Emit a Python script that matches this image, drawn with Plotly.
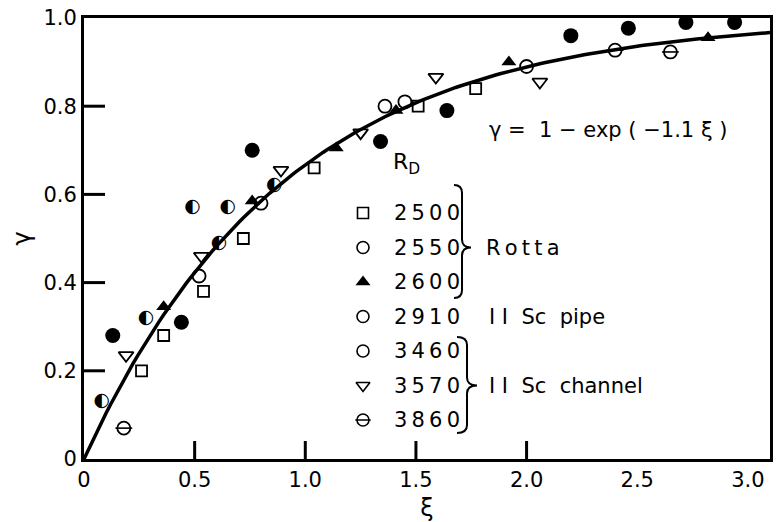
import math
import plotly.graph_objects as go

# ---------------- data ----------------
# R_D = 2500 (Rotta) - open squares
xi_2500 = [0.26, 0.36, 0.54, 0.72, 1.04, 1.51, 1.77]
g_2500 = [0.20, 0.28, 0.38, 0.50, 0.66, 0.80, 0.84]
# R_D = 2550 (Rotta) - open circles
xi_2550 = [0.52, 0.80, 1.36, 1.45, 2.00]
g_2550 = [0.415, 0.58, 0.80, 0.81, 0.89]
# R_D = 2600 (Rotta) - filled triangles
xi_2600 = [0.36, 0.76, 1.14, 1.41, 1.92, 2.82]
g_2600 = [0.345, 0.585, 0.705, 0.79, 0.90, 0.955]
# R_D = 2910 (II Sc pipe) - filled circles
xi_2910 = [0.13, 0.44, 0.76, 1.34, 1.64, 2.20, 2.46, 2.72, 2.94]
g_2910 = [0.28, 0.31, 0.70, 0.72, 0.79, 0.96, 0.977, 0.99, 0.99]
# R_D = 3460 (II Sc channel) - half-filled circles
xi_3460 = [0.08, 0.28, 0.49, 0.61, 0.65, 0.86]
g_3460 = [0.13, 0.32, 0.57, 0.49, 0.57, 0.62]
# R_D = 3570 (II Sc channel) - open down-triangles
xi_3570 = [0.19, 0.53, 0.89, 1.25, 1.59, 2.06]
g_3570 = [0.235, 0.46, 0.655, 0.74, 0.866, 0.855]
# R_D = 3860 (II Sc channel) - circles with a bar
xi_3860 = [0.18, 2.40, 2.65]
g_3860 = [0.07, 0.927, 0.923]

# fitted curve stated on the chart: gamma = 1 - exp(-1.1 xi)
fit_coef = 1.1
xi_curve = [i * 0.02 for i in range(0, 156)]
g_curve = [1 - math.exp(-fit_coef * v) for v in xi_curve]

legend_labels = ["2500", "2550", "2600", "2910", "3460", "3570", "3860"]
x_ticks = [0, 0.5, 1.0, 1.5, 2.0, 2.5, 3.0]
x_ticktext = ["0", "0.5", "1.0", "1.5", "2.0", "2.5", "3.0"]
x_tickmarks = [0.5, 1.0, 1.5, 2.0]
y_ticks = [0, 0.2, 0.4, 0.6, 0.8, 1.0]
y_ticktext = ["0", "0.2", "0.4", "0.6", "0.8", "1.0"]
y_tickmarks = [0.2, 0.4, 0.6, 0.8]

FONT = "DejaVu Sans"
BLACK = "black"

# page body adds an 8px offset; figure sized to fill the rest of the window
OFF = 8
W, H = 783 - OFF, 522 - OFF
ML, MR, MT, MB = 84 - OFF, 13, 18 - OFF, 63
PW, PH = W - ML - MR, H - MT - MB
XR = [0, 3.1]
YR = [0, 1.0]
XTICKLEN, YTICKLEN = 18, 21


def px_x(p):
    """window pixel column -> data x (used only for the key/annotation layout)"""
    return XR[0] + (p - OFF - ML) / PW * (XR[1] - XR[0])


def px_y(p):
    return YR[0] + (H + OFF - MB - p) / PH * (YR[1] - YR[0])


fig = go.Figure()

# inward tick marks, drawn as short line segments at the tick values
tx, ty = [], []
for v in x_tickmarks:
    tx += [v, v, None]
    ty += [YR[0], YR[0] + XTICKLEN / PH * (YR[1] - YR[0]), None]
for v in y_tickmarks:
    tx += [XR[0], XR[0] + YTICKLEN / PW * (XR[1] - XR[0]), None]
    ty += [v, v, None]
fig.add_trace(go.Scatter(x=tx, y=ty, mode="lines", line=dict(color=BLACK, width=3),
                         showlegend=False, hoverinfo="skip"))

# curve
fig.add_trace(go.Scatter(x=xi_curve, y=g_curve, mode="lines",
                         line=dict(color=BLACK, width=3.5), showlegend=False))


def mk(x, y, symbol, size, lw=1.8):
    return go.Scatter(x=x, y=y, mode="markers", showlegend=False,
                      marker=dict(symbol=symbol, size=size, color=BLACK,
                                  line=dict(color=BLACK, width=lw)))


fig.add_trace(mk(xi_2500, g_2500, "square-open", 11))
fig.add_trace(mk(xi_2550, g_2550, "circle-open", 13))
fig.add_trace(mk(xi_2600, g_2600, "triangle-up", 13, lw=0))
fig.add_trace(mk(xi_2910, g_2910, "circle", 15, lw=0))
fig.add_trace(go.Scatter(x=xi_3460, y=g_3460, mode="text", text=["\u25D0"] * len(xi_3460),
                         textposition="middle center", showlegend=False,
                         textfont=dict(family=FONT, size=19, color=BLACK)))
fig.add_trace(mk(xi_3570, g_3570, "triangle-down-open", 13))
fig.add_trace(mk(xi_3860, g_3860, "circle-open", 13))
fig.add_trace(mk(xi_3860, g_3860, "line-ew-open", 12, lw=1.6))

# ---------------- hand-drawn style key ----------------
ROW0, DY = 213, 34.5
KEY_MX, KEY_TX = 363, 392
rows_py = [ROW0 + DY * i for i in range(len(legend_labels))]
key_symbols = ["square-open", "circle-open", "triangle-up", "circle-open",
               "circle-open", "triangle-down-open", "circle-open"]
key_sizes = [11, 12, 13, 12, 12, 12, 12]
for sym, sz, yy in zip(key_symbols, key_sizes, rows_py):
    fig.add_trace(mk([px_x(KEY_MX)], [px_y(yy)], sym, sz,
                     lw=1.6 if sym != "triangle-up" else 0))
fig.add_trace(mk([px_x(KEY_MX)], [px_y(rows_py[-1])], "line-ew-open", 11, lw=1.5))


def ann(px, py, text, size=21, xanchor="left"):
    return dict(x=px_x(px), y=px_y(py), xref="x", yref="y", text=text, showarrow=False,
                xanchor=xanchor, yanchor="middle",
                font=dict(family=FONT, size=size, color=BLACK))


annotations = [ann(KEY_TX, yy, "\u2009".join(lab)) for lab, yy in zip(legend_labels, rows_py)]
annotations += [
    ann(406, 163, "R<sub>D</sub>", size=22, xanchor="center"),
    ann(484, rows_py[1], "R\u2009o\u2009t\u2009t\u2009a"),
    ann(487, rows_py[3], "I I  Sc  pipe"),
    ann(487, rows_py[5], "I I  Sc  channel"),
    ann(608, 130, "\u03B3 =  1 \u2212 exp ( \u22121.1 \u03BE )", xanchor="center"),
]


def brace(x0, xl, xt, ytop, ymid, ybot):
    r = 8
    pts = [("M", x0, ytop), ("Q", xl, ytop), ("", xl, ytop + r), ("L", xl, ymid - r),
           ("Q", xl, ymid), ("", xt, ymid), ("Q", xl, ymid), ("", xl, ymid + r),
           ("L", xl, ybot - r), ("Q", xl, ybot), ("", x0, ybot)]
    return " ".join(f"{c} {px_x(a):.4f},{px_y(b):.4f}".strip() for c, a, b in pts)


shapes = [
    dict(type="path", xref="x", yref="y", line=dict(color=BLACK, width=2),
         path=brace(454, 462, 471, 185, rows_py[1], 298)),
    dict(type="path", xref="x", yref="y", line=dict(color=BLACK, width=2),
         path=brace(457, 467, 477, 337, rows_py[5], 433)),
]

axis_common = dict(showline=True, linewidth=3, linecolor=BLACK, mirror=True,
                   ticks="", showgrid=False, zeroline=False, automargin=False,
                   ticklabeloverflow="allow",
                   tickfont=dict(family=FONT, size=21, color=BLACK))

fig.update_layout(
    width=W, height=H,
    margin=dict(l=ML, r=MR, t=MT, b=MB),
    paper_bgcolor="white", plot_bgcolor="white",
    showlegend=False,
    xaxis=dict(range=XR, tickvals=x_ticks, ticktext=x_ticktext,
               title=dict(text="\u03BE", font=dict(family=FONT, size=24, color=BLACK), standoff=10),
               **axis_common),
    yaxis=dict(range=YR, tickvals=y_ticks, ticktext=y_ticktext,
               title=dict(text="\u03B3", font=dict(family=FONT, size=24, color=BLACK), standoff=18),
               **axis_common),
    annotations=annotations,
    shapes=shapes,
)

fig.write_html("out.html")
